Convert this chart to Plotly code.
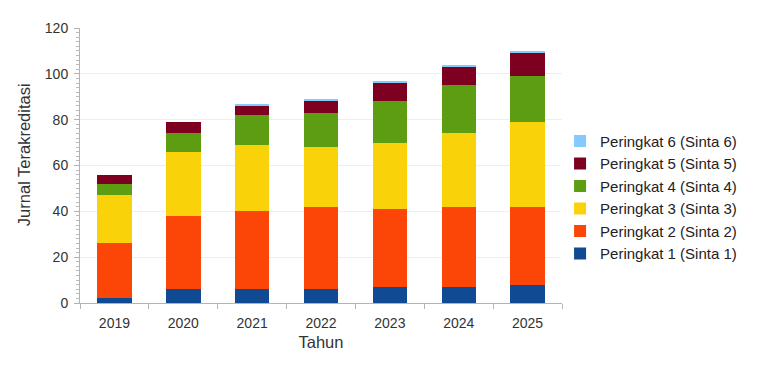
import plotly.graph_objects as go

years = ["2019", "2020", "2021", "2022", "2023", "2024", "2025"]
sinta1 = [2, 6, 6, 6, 7, 7, 8]
sinta2 = [24, 32, 34, 36, 34, 35, 34]
sinta3 = [21, 28, 29, 26, 29, 32, 37]
sinta4 = [5, 8, 13, 15, 18, 21, 20]
sinta5 = [4, 5, 4, 5, 8, 8, 10]
sinta6 = [0, 0, 1, 1, 1, 1, 1]

series = [
    ("Peringkat 1 (Sinta 1)", sinta1, "#0f4a92"),
    ("Peringkat 2 (Sinta 2)", sinta2, "#fb4608"),
    ("Peringkat 3 (Sinta 3)", sinta3, "#fad20a"),
    ("Peringkat 4 (Sinta 4)", sinta4, "#5c9d12"),
    ("Peringkat 5 (Sinta 5)", sinta5, "#7e0021"),
    ("Peringkat 6 (Sinta 6)", sinta6, "#83caff"),
]

fig = go.Figure()
for name, vals, color in series:
    fig.add_trace(go.Bar(x=years, y=vals, name=name, marker_color=color,
                         marker_line_width=0))

fig.update_layout(
    width=753, height=369,
    barmode="stack", bargap=0.5,
    plot_bgcolor="white", paper_bgcolor="white",
    margin=dict(l=72, r=199, t=18, b=74),
    font=dict(family="Liberation Sans, Arial, sans-serif", size=14, color="#333333"),
    legend=dict(traceorder="reversed", x=0.996, y=0.385, yanchor="middle",
                xanchor="left", font=dict(size=15, color="#222222"),
                itemwidth=30, tracegroupgap=0),
    xaxis=dict(
        title=dict(text="Tahun", font=dict(size=16.5), standoff=6),
        showline=True, linecolor="#b3b3b3", linewidth=1,
        ticks="outside", tickson="boundaries", ticklen=5, tickcolor="#b3b3b3",
        ticklabelstandoff=7,
        showgrid=False,
    ),
    yaxis=dict(
        range=[0, 120], dtick=20,
        showline=True, linecolor="#b3b3b3", linewidth=1,
        ticks="outside", ticklen=5, tickcolor="#b3b3b3",
        ticklabelstandoff=3,
        gridcolor="#eeeeee", gridwidth=1,
        minor=dict(dtick=2, ticks="outside", ticklen=3, tickcolor="#bbbbbb", showgrid=False),
        zeroline=False,
    ),
    annotations=[dict(
        text="Jurnal Terakreditasi", textangle=-90,
        xref="paper", yref="paper", x=-0.116, y=0.538,
        xanchor="center", yanchor="middle", showarrow=False,
        font=dict(size=16.5, color="#333333"),
    )],
)

fig.write_html("out.html")
